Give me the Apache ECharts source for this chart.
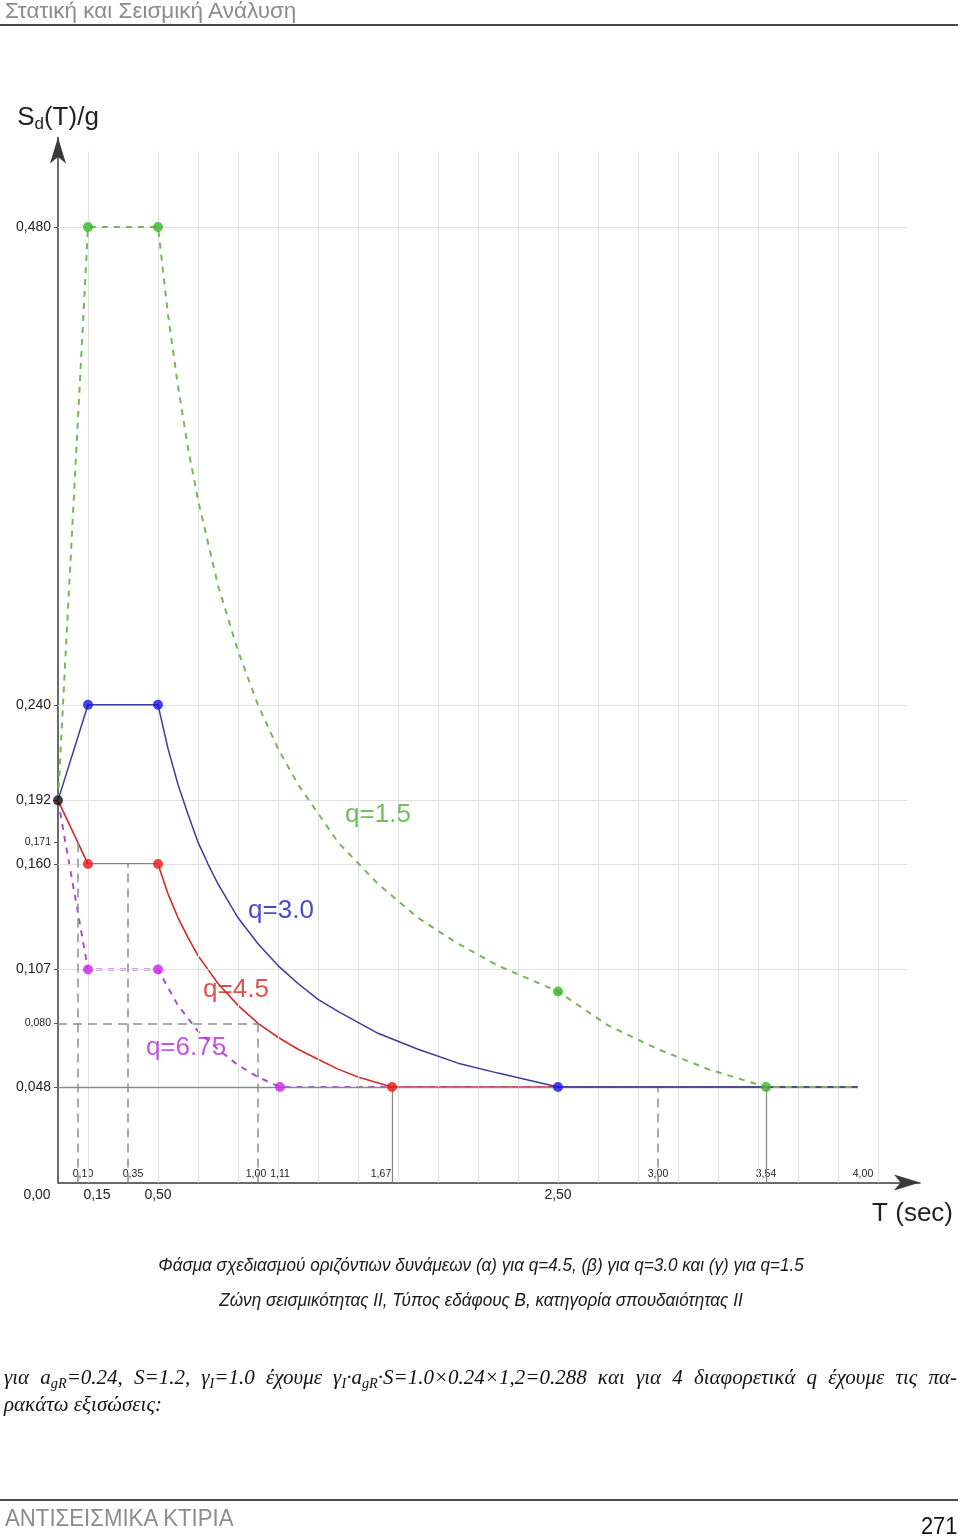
<!DOCTYPE html>
<html><head><meta charset="utf-8">
<script src="https://cdn.jsdelivr.net/npm/echarts@6/dist/echarts.min.js"></script>
<style>
html,body{margin:0;padding:0;background:#fff;}
#page{position:relative;width:960px;height:1536px;overflow:hidden;background:#fff;}
#chart{position:absolute;left:0;top:0;width:960px;height:1536px;}
.t{position:absolute;white-space:nowrap;line-height:1;}
.rule{position:absolute;left:0;width:958px;height:2px;background:#4a4a4a;}
.cap{position:absolute;left:0;width:962px;text-align:center;white-space:nowrap;line-height:1;font:italic 18px 'Liberation Sans',Arial,sans-serif;color:#1a1a1a;transform:scaleX(0.95);transform-origin:481px 0;}
sub{font-size:68%;vertical-align:-4px;line-height:0;}
</style></head><body>
<div id="page">
<div id="chart"></div>
<div class="t" style="left:5px;top:-2px;font:22.5px 'Liberation Sans',Arial,sans-serif;color:#8c8c8c">Στατική και Σεισμική Ανάλυση</div>
<div class="rule" style="top:24px"></div>
<div class="cap" style="top:1255px">Φάσμα σχεδιασμού οριζόντιων δυνάμεων (α) για q=4.5, (β) για q=3.0 και (γ) για q=1.5</div>
<div class="cap" style="top:1290px">Ζώνη σεισμικότητας ΙΙ, Τύπος εδάφους Β, κατηγορία σπουδαιότητας ΙΙ</div>
<div style="position:absolute;left:4px;top:1365px;width:953px;font:italic 21px 'Liberation Serif','Times New Roman',serif;color:#111;text-align:justify;text-align-last:justify;white-space:nowrap;line-height:24px">για a<sub>gR</sub>=0.24, S=1.2, γ<sub>I</sub>=1.0 έχουμε γ<sub>I</sub>·a<sub>gR</sub>·S=1.0×0.24×1,2=0.288 και για 4 διαφορετικά q έχουμε τις πα-</div>
<div class="t" style="left:4px;top:1392px;font:italic 21px 'Liberation Serif','Times New Roman',serif;color:#111">ρακάτω εξισώσεις:</div>
<div class="rule" style="top:1499px"></div>
<div class="t" style="left:5px;top:1505px;font:23px 'Liberation Sans',Arial,sans-serif;color:#8c8c8c;transform:scaleX(0.965);transform-origin:0 0">ΑΝΤΙΣΕΙΣΜΙΚΑ ΚΤΙΡΙΑ</div>
<div class="t" style="right:3px;top:1513px;font:23px 'Liberation Sans',Arial,sans-serif;color:#111;transform:scaleX(0.95);transform-origin:100% 0">271</div>
</div>
<script>
// ---------------- data ----------------
const q15T = [0, 0.15, 0.5, 0.55, 0.6, 0.65, 0.7, 0.8, 0.9, 1.0, 1.1, 1.2, 1.4, 1.6, 1.8, 2.0, 2.2, 2.5, 2.75, 3.0, 3.25, 3.54, 4.0];
const q15S = [0.192, 0.480, 0.480, 0.436, 0.400, 0.369, 0.343, 0.300, 0.267, 0.240, 0.218, 0.200, 0.171, 0.150, 0.133, 0.120, 0.109, 0.096, 0.079, 0.067, 0.057, 0.048, 0.048];
const q30T = [0, 0.15, 0.5, 0.55, 0.6, 0.65, 0.7, 0.75, 0.8, 0.9, 1.0, 1.1, 1.2, 1.3, 1.4, 1.6, 1.8, 2.0, 2.2, 2.5, 4.0];
const q30S = [0.192, 0.240, 0.240, 0.218, 0.200, 0.185, 0.171, 0.160, 0.150, 0.133, 0.120, 0.109, 0.100, 0.092, 0.086, 0.075, 0.067, 0.060, 0.055, 0.048, 0.048];
const q45T = [0, 0.15, 0.5, 0.55, 0.6, 0.65, 0.7, 0.8, 0.9, 1.0, 1.1, 1.2, 1.3, 1.4, 1.5, 1.67, 4.0];
const q45S = [0.192, 0.160, 0.160, 0.145, 0.133, 0.123, 0.114, 0.100, 0.089, 0.080, 0.073, 0.067, 0.062, 0.057, 0.053, 0.048, 0.048];
const q675T = [0, 0.15, 0.5, 0.6, 0.7, 0.8, 0.9, 1.0, 1.11, 4.0];
const q675S = [0.192, 0.107, 0.107, 0.089, 0.076, 0.067, 0.059, 0.053, 0.048, 0.048];

// marked corner points
const q15MarkT = [0.15, 0.5, 2.5, 3.54];
const q15MarkS = [0.480, 0.480, 0.096, 0.048];
const q30MarkT = [0.15, 0.5, 2.5];
const q30MarkS = [0.240, 0.240, 0.048];
const q45MarkT = [0.15, 0.5, 1.67];
const q45MarkS = [0.160, 0.160, 0.048];
const q675MarkT = [0.15, 0.5, 1.11];
const q675MarkS = [0.107, 0.107, 0.048];
const originT = [0];
const originS = [0.192];

// tick labels
const xTicksMain = [0, 0.15, 0.5, 2.5];
const xTicksSmall = [0.10, 0.35, 1.00, 1.11, 1.67, 3.00, 3.54, 4.00];
const yTicksMain = [0.048, 0.107, 0.160, 0.192, 0.240, 0.480];
const yTicksSmall = [0.080, 0.171];

// grid line values
const gridX = [0.15, 0.5, 0.7, 0.9, 1.1, 1.3, 1.5, 1.7, 1.9, 2.1, 2.3, 2.5, 2.7, 2.9, 3.1, 3.3, 3.5, 3.7, 3.9, 4.1];
const gridY = [0.107, 0.160, 0.192, 0.240, 0.480];

// reference lines: [T1, S1, T2, S2]
const dashedRefs = [[0.10, 0, 0.10, 0.171], [0.35, 0, 0.35, 0.160], [1.00, 0, 1.00, 0.080], [0, 0.080, 1.00, 0.080], [3.00, 0, 3.00, 0.048]];
const solidRefs = [[0, 0.048, 4.00, 0.048], [1.67, 0, 1.67, 0.048], [3.54, 0, 3.54, 0.048]];

// curve labels
const curveLabels = ['q=1.5', 'q=3.0', 'q=4.5', 'q=6.75'];

// ---------------- layout / style ----------------
const X_MAX = 4.31, Y_MAX = 0.525;
const GRID_TOP_S = 0.518, GRID_RIGHT_T = 4.245;
const labelAnchors = [[1.60, 0.1846], [1.115, 0.1364], [0.89, 0.0967], [0.64, 0.0676]];
const labelColors = ['#4cae35', '#1d1db8', '#d42424', '#b12fd9'];
const FONT = "'Liberation Sans', Arial, sans-serif";

const zip = (a, b) => a.map((v, i) => [v, b[i]]);
const comma = (v, d) => v.toFixed(d).replace('.', ',');
const near = (a, b) => Math.abs(a - b) < 1e-6;
const segs = (arr) => arr.map(r => [{coord: [r[0], r[1]]}, {coord: [r[2], r[3]]}]);

const gridLines = gridX.map(x => [x, 0, x, GRID_TOP_S]).concat(gridY.map(y => [0, y, GRID_RIGHT_T, y]));

function markSeries(name, T, S, color, z) {
  return {name, type: 'scatter', data: zip(T, S), symbol: 'circle', symbolSize: 10,
    itemStyle: {color}, z, silent: true};
}

function smallLabel(v) {
  const s = comma(v, 2);
  if (near(v, 1.67)) return '{l|' + s + '}';
  if (near(v, 1.0)) return '{m|' + s + '}';
  if (near(v, 0.1) || near(v, 0.35) || near(v, 4)) return '{r|' + s + '}';
  return s;
}

const chart = echarts.init(document.getElementById('chart'), null, {renderer: 'canvas'});
chart.setOption({
  animation: false,
  backgroundColor: 'transparent',
  grid: {left: 58, right: 40, top: 137.4, bottom: 353.4, containLabel: false},
  xAxis: [{
    type: 'value', min: 0, max: X_MAX,
    name: 'T (sec)', nameLocation: 'end', nameGap: 33,
    nameTextStyle: {fontFamily: FONT, fontSize: 26, color: '#222', align: 'right', verticalAlign: 'top', padding: [18, 0, 0, 0]},
    axisLine: {show: true, lineStyle: {color: '#3a3a3a', width: 1.5}, symbol: ['none', 'arrow'], symbolSize: [12, 26]},
    axisTick: {show: false},
    splitLine: {show: false},
    axisLabel: {
      customValues: xTicksMain, margin: 6, color: '#222', fontFamily: FONT, fontSize: 14,
      formatter: v => near(v, 0) ? '{z|' + comma(v, 2) + '}' : near(v, 0.15) ? '{r|' + comma(v, 2) + '}' : comma(v, 2),
      rich: {z: {fontFamily: FONT, fontSize: 14, color: '#222', padding: [0, 42, 0, 0]},
             r: {fontFamily: FONT, fontSize: 14, color: '#222', padding: [0, 0, 0, 18]}}
    }
  }, {
    type: 'value', min: 0, max: X_MAX, position: 'bottom',
    axisLine: {show: false}, axisTick: {show: false}, splitLine: {show: false},
    axisLabel: {
      customValues: xTicksSmall, inside: true, margin: 3, color: '#222', fontFamily: FONT, fontSize: 10.5,
      formatter: smallLabel,
      rich: {l: {fontFamily: FONT, fontSize: 10.5, color: '#222', padding: [0, 22, 0, 0]},
             m: {fontFamily: FONT, fontSize: 10.5, color: '#222', padding: [0, 4, 0, 0]},
             r: {fontFamily: FONT, fontSize: 10.5, color: '#222', padding: [0, 0, 0, 10]}}
    }
  }],
  yAxis: {
    type: 'value', min: 0, max: Y_MAX,
    name: '{a|S}{d|d}{a|(T)/g}', nameLocation: 'end', nameGap: 5,
    nameTextStyle: {rich: {a: {fontFamily: FONT, fontSize: 26, color: '#222'},
                           d: {fontFamily: FONT, fontSize: 17, color: '#222', padding: [13, 0, 0, 0]}}},
    axisLine: {show: true, lineStyle: {color: '#3a3a3a', width: 1.5}, symbol: ['none', 'arrow'], symbolSize: [12, 26]},
    axisTick: {show: true, customValues: yTicksMain.concat(yTicksSmall), length: 4, lineStyle: {color: '#555'}},
    splitLine: {show: false},
    axisLabel: {
      customValues: yTicksMain.concat(yTicksSmall), margin: 7, color: '#222', fontFamily: FONT, fontSize: 14,
      formatter: v => yTicksSmall.some(s => near(s, v)) ? '{s|' + comma(v, 3) + '}' : comma(v, 3),
      rich: {s: {fontFamily: FONT, fontSize: 10.5, color: '#222'}}
    }
  },
  series: [
    {name: 'grid', type: 'line', data: [], silent: true, z: 1,
      markLine: {silent: true, symbol: ['none', 'none'], label: {show: false}, animation: false,
        lineStyle: {color: '#e0e0e0', width: 1, type: 'solid'}, data: segs(gridLines)}},
    {name: 'ref-dashed', type: 'line', data: [], silent: true, z: 2,
      markLine: {silent: true, symbol: ['none', 'none'], label: {show: false}, animation: false,
        lineStyle: {color: '#8f8f8f', width: 1.5, type: [9, 6]}, data: segs(dashedRefs)}},
    {name: 'ref-solid', type: 'line', data: [], silent: true, z: 2,
      markLine: {silent: true, symbol: ['none', 'none'], label: {show: false}, animation: false,
        lineStyle: {color: '#8a8a8a', width: 1.3, type: 'solid'}, data: segs(solidRefs)}},
    {name: 'q=6.75', type: 'line', data: zip(q675T, q675S), showSymbol: false, z: 3,
      lineStyle: {color: '#a651cc', width: 2, type: [6, 6]}},
    {name: 'q=4.5', type: 'line', data: zip(q45T, q45S), showSymbol: false, z: 4,
      lineStyle: {color: '#d42a2a', width: 1.6}},
    {name: 'q=3.0', type: 'line', data: zip(q30T, q30S), showSymbol: false, z: 5,
      lineStyle: {color: '#3a3c9e', width: 1.5}},
    {name: 'q=1.5', type: 'line', data: zip(q15T, q15S), showSymbol: false, z: 6,
      lineStyle: {color: '#7ab55c', width: 2, type: [6, 6]}},
    markSeries('m6.75', q675MarkT, q675MarkS, '#cc22ee', 10),
    markSeries('m4.5', q45MarkT, q45MarkS, '#ee1515', 10),
    markSeries('m3.0', q30MarkT, q30MarkS, '#1414e6', 10),
    markSeries('m1.5', q15MarkT, q15MarkS, '#33b526', 10),
    markSeries('origin', originT, originS, '#111', 11),
    {name: 'labels', type: 'scatter', symbolSize: 0, silent: true, z: 12,
      data: curveLabels.map((t, i) => ({value: labelAnchors[i], name: t,
        label: {show: true, position: 'inside', formatter: t, color: labelColors[i],
          fontFamily: FONT, fontSize: 26}}))}
  ]
});
</script>
</body></html>
